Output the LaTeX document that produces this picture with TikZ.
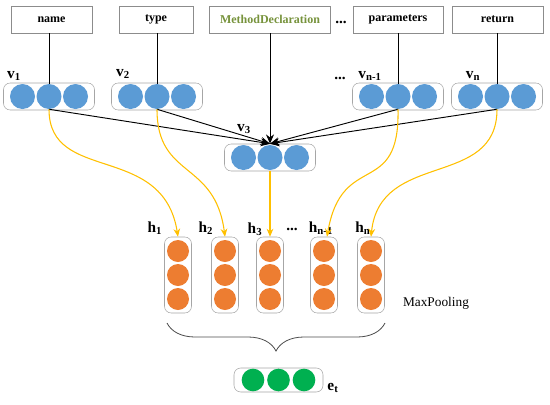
\documentclass[tikz,border=0pt]{standalone}
\usepackage{fontspec}
\setmainfont{Liberation Serif}
\usetikzlibrary{arrows.meta,calc,decorations.pathreplacing}
\definecolor{cblue}{HTML}{5B9BD5}
\definecolor{corange}{HTML}{ED7D31}
\definecolor{cgreen}{HTML}{00B050}
\definecolor{carrow}{HTML}{FFC000}
\definecolor{cmd}{HTML}{77933C}
\definecolor{cframe}{HTML}{A6A6A6}
\tikzset{
  topbox/.style={draw=black!45,fill=white,minimum height=20.25pt,inner sep=0pt,font=\fontsize{9}{10}\selectfont\bfseries},
  hcont/.style={draw=cframe,fill=white,rounded corners=5pt,minimum width=68.25pt,minimum height=20.25pt,inner sep=0pt},
  vcont/.style={draw=cframe,fill=white,rounded corners=5pt,minimum width=20.25pt,minimum height=57pt,inner sep=0pt},
  bc/.style={circle,fill=cblue,minimum size=18.75pt,inner sep=0pt},
  oc/.style={circle,fill=corange,minimum size=16.5pt,inner sep=0pt},
  gc/.style={circle,fill=cgreen,minimum size=17pt,inner sep=0pt},
  lbl/.style={font=\fontsize{11.5}{12}\selectfont\bfseries,inner sep=0pt},
  blk/.style={black,line width=0.6pt},
  blkarr/.style={black,line width=0.7pt,-{Stealth[length=7pt,width=6pt]}},
  orarr/.style={carrow,line width=0.8pt,-{Stealth[length=6pt,width=5pt]}},
}
\begin{document}
\begin{tikzpicture}[x=0.75pt,y=-0.75pt]
\useasboundingbox (0,0) rectangle (550,404);
% top boxes
\node[topbox,minimum width=60.75pt] (bname) at (51.5,19.5) {name};
\node[topbox,minimum width=55.5pt] (btype) at (156,19.5) {type};
\node[topbox,minimum width=90.75pt,text=cmd] (bmd) at (270,19.5) {MethodDeclaration};
\node[topbox,minimum width=67.5pt] (bpar) at (398,19.5) {parameters};
\node[topbox,minimum width=68.25pt] (bret) at (497.5,19.5) {return};
\node[lbl] (dtop) at (341,22) {...};
% v containers
\node[hcont] (cv1) at (49,96.5) {};
\node[hcont] (cv2) at (157,96.5) {};
\node[hcont] (cvm) at (398,96.5) {};
\node[hcont] (cvn) at (497,96.5) {};
\node[hcont] (cv3) at (270,157.5) {};
\foreach \c/\x/\y in {v1/49/96.5, v2/157/96.5, vm/398/96.5, vn/497/96.5, v3/270/157.5}{
  \node[bc] (\c a) at (\x-26.5,\y) {};
  \node[bc] (\c b) at (\x,\y) {};
  \node[bc] (\c c) at (\x+26.5,\y) {};
}
% v labels
\node[lbl] (lv1) at (14,76) {v\textsubscript{1}};
\node[lbl] (lv2) at (123,74) {v\textsubscript{2}};
\node[lbl] (ldv) at (340,78) {...};
\node[lbl] (lvm) at (370,76) {v\textsubscript{n-1}};
\node[lbl] (lvn) at (473,76) {v\textsubscript{n}};
\node[lbl] (lv3) at (244,129) {v\textsubscript{3}};
% lines from boxes to vectors
\draw[blk] (bname.south -| v1b.north) -- (v1b.north);
\draw[blk] (btype.south -| v2b.north) -- (v2b.north);
\draw[blk] (bpar.south -| vmb.north) -- (vmb.north);
\draw[blk] (bret.south -| vnb.north) -- (vnb.north);
% h containers
\foreach \c/\x in {h1/178, h2/225, h3/270, hm/324, hn/371}{
  \node[vcont] (c\c) at (\x,275) {};
  \node[oc] (\c a) at (\x,251) {};
  \node[oc] (\c b) at (\x,275) {};
  \node[oc] (\c c) at (\x,299) {};
}
\node[lbl] (lh1) at (155,228) {h\textsubscript{1}};
\node[lbl] (lh2) at (206,228) {h\textsubscript{2}};
\node[lbl] (lh3) at (255,229) {h\textsubscript{3}};
\node[lbl] (ldh) at (292,229) {...};
\node[lbl] (lhm) at (321,228) {h\textsubscript{n-1}};
\node[lbl] (lhn) at (363,228) {h\textsubscript{n}};
% black arrows into v3
\draw[blkarr] (bmd.south) -- (cv3.north);
\draw[blkarr] (v1b.south) -- (cv3.north);
\draw[blkarr] (v2b.south) -- (cv3.north);
\draw[blkarr] (vmb.south) -- (cv3.north);
\draw[blkarr] (vnb.south) -- (cv3.north);
% orange arrows
\draw[orarr] (v1b.south) .. controls ($(v1b.south)+(0,75)$) and ($(ch1.north)+(-15,-95)$) .. (ch1.north);
\draw[orarr] (v2b.south) .. controls ($(v2b.south)+(0,70)$) and ($(ch2.north)+(-10,-77)$) .. (ch2.north);
\draw[orarr] (cv3.south) -- (ch3.north);
\draw[orarr] (vmb.south) .. controls ($(vmb.south)+(2,90)$) and ($(chm.north)+(18,-87)$) .. ($(chm.north)+(3,0)$);
\draw[orarr] (vnb.south) .. controls ($(vnb.south)+(0,80)$) and ($(chn.north)+(9,-87)$) .. (chn.north);
% MaxPooling
\node[font=\fontsize{10}{12}\selectfont,inner sep=0pt] (mp) at (436,303) {MaxPooling};
% brace
\coordinate (bl) at (167,323);
\coordinate (br) at (385,323);
\draw[black!70,line width=0.6pt,decorate,decoration={brace,mirror,amplitude=21pt}] (bl) -- (br);
% e_t
\node[hcont,minimum width=66.75pt,minimum height=18pt] (ce) at (278.5,380) {};
\node[gc] (ea) at (253,380) {};
\node[gc] (eb) at (278.5,380) {};
\node[gc] (ec) at (304,380) {};
\node[lbl] (le) at (333,388) {e\textsubscript{t}};
\end{tikzpicture}
\end{document}
